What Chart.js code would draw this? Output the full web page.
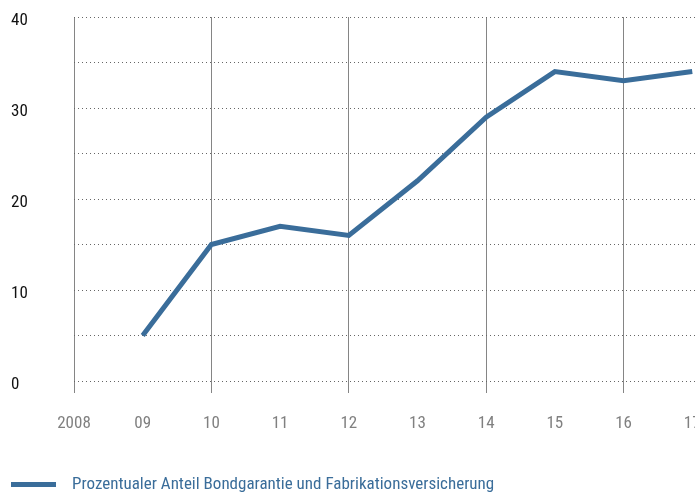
<!DOCTYPE html>
<html>
<head>
<meta charset="utf-8">
<script src="https://cdn.jsdelivr.net/npm/chart.js@4"></script>
<style>
  html, body { margin: 0; padding: 0; background: #fff; overflow: hidden; }
  #wrap { width: 695px; height: 493px; }
</style>
</head>
<body>
<div id="wrap"><canvas id="chart"></canvas></div>
<script>
const years = [2008, 2009, 2010, 2011, 2012, 2013, 2014, 2015, 2016, 2017];
const yearLabels = ["2008", "09", "10", "11", "12", "13", "14", "15", "16", "17"];
const shareYears = [2009, 2010, 2011, 2012, 2013, 2014, 2015, 2016, 2017];
const shareValues = [5, 15, 17, 16, 22, 29, 34, 33, 34];
const yTicks = [0, 5, 10, 15, 20, 25, 30, 35, 40];
const seriesLabel = "Prozentualer Anteil Bondgarantie und Fabrikationsversicherung";

const FONT = "'Roboto Condensed', 'DejaVu Sans Condensed', sans-serif";
const BLUE = "#3a6d9a";

const ctx = document.getElementById("chart");
new Chart(ctx, {
  type: "line",
  data: {
    datasets: [{
      label: seriesLabel,
      data: shareYears.map((y, i) => ({x: y, y: shareValues[i]})),
      borderColor: BLUE,
      backgroundColor: BLUE,
      borderWidth: 5,
      borderCapStyle: "butt",
      pointRadius: 0,
      tension: 0
    }]
  },
  options: {
    responsive: true,
    maintainAspectRatio: false,
    animation: false,
    layout: {padding: {left: 11, top: 17, right: 0, bottom: -10}},
    plugins: {
      tooltip: {enabled: false},
      legend: {
        position: "bottom",
        align: "start",
        labels: {
          color: BLUE,
          font: {family: FONT, size: 17},
          boxWidth: 45,
          boxHeight: 5,
          padding: 0,
          generateLabels: chart => chart.data.datasets.map((d, i) => ({
            text: "\u2002" + d.label,
            fillStyle: d.borderColor,
            strokeStyle: d.borderColor,
            lineWidth: 0,
            fontColor: BLUE,
            datasetIndex: i
          }))
        }
      }
    },
    scales: {
      x: {
        type: "linear",
        min: 2008,
        max: 2017.04,
        afterBuildTicks: s => { s.ticks = years.map(v => ({value: v})); },
        afterFit: s => { s.height = 95; s.paddingRight = 0; },
        border: {display: false},
        grid: {
          color: c => (c.tick && c.tick.value % 2 === 0) ? "#858585" : "rgba(0,0,0,0)",
          lineWidth: 1,
          tickLength: 12
        },
        ticks: {
          color: "#808080",
          font: {family: FONT, size: 17},
          padding: 21,
          maxRotation: 0,
          autoSkip: false,
          callback: v => yearLabels[years.indexOf(v)]
        }
      },
      y: {
        min: 0,
        max: 40,
        afterBuildTicks: s => { s.ticks = yTicks.map(v => ({value: v})); },
        afterFit: s => { s.width = 63; },
        border: {display: false, dash: [1, 3]},
        grid: {color: "#666", lineWidth: 1, drawTicks: false},
        ticks: {
          color: "#111",
          font: {family: FONT, size: 17, lineHeight: 0.45},
          crossAlign: "far",
          autoSkip: false,
          callback: v => (v % 10 === 0 ? ["", String(v)] : "")
        }
      }
    }
  }
});
</script>
</body>
</html>
